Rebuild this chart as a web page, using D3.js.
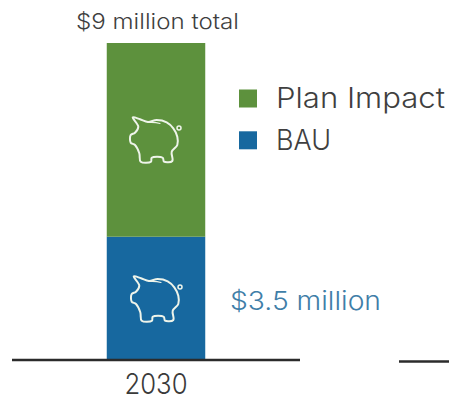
<!DOCTYPE html>
<html>
<head>
<meta charset="utf-8">
<script src="https://cdn.jsdelivr.net/npm/d3@7"></script>
<style>
  html, body { margin: 0; padding: 0; background: #fff; }
  svg { display: block; }
  text { font-family: "Inter", sans-serif; font-weight: 300; }
</style>
</head>
<body>
<svg id="chart" width="449" height="401"></svg>
<script>
const years = ["2030"];
const seriesNames = ["BAU", "Plan Impact"];
const bauValues = [3.5];
const planImpactValues = [5.5];
const seriesColors = ["#17689f", "#5d913d"];
const legendNames = ["Plan Impact", "BAU"];
const totalLabel = "$9 million total";
const bauLabel = "$3.5 million";

const svg = d3.select("#chart");
const baseline = 360;
const chartTop = 43;

const y = d3.scaleLinear().domain([0, 9]).range([baseline, chartTop]);
const x = d3.scaleBand().domain(years).range([12, 300]).paddingInner(0).paddingOuter(0.962);

const stacked = d3.stack().keys(seriesNames)(
  years.map((yr, i) => ({ year: yr, "BAU": bauValues[i], "Plan Impact": planImpactValues[i] }))
);

svg.selectAll("g.series").data(stacked).join("g")
  .attr("class", "series")
  .attr("fill", (d, i) => seriesColors[i])
  .selectAll("rect").data(d => d).join("rect")
  .attr("x", d => x(d.data.year))
  .attr("width", x.bandwidth())
  .attr("y", d => y(d[1]))
  .attr("height", d => y(d[0]) - y(d[1]));

// Axis rule for this panel plus the start of the neighbouring panel's rule
const axisRules = [[12, 300, 360], [399, 449, 361.5]];
svg.selectAll("line.rule").data(axisRules).join("line")
  .attr("class", "rule")
  .attr("x1", d => d[0]).attr("x2", d => d[1])
  .attr("y1", d => d[2]).attr("y2", d => d[2])
  .attr("stroke", "#2b2b2b").attr("stroke-width", 2.4);

svg.selectAll("text.year").data(years).join("text")
  .attr("class", "year")
  .attr("x", d => x(d) + x.bandwidth() / 2)
  .attr("y", 394)
  .attr("text-anchor", "middle")
  .attr("font-size", 29)
  .attr("textLength", 63)
  .attr("lengthAdjust", "spacingAndGlyphs")
  .attr("fill", "#3a3a3a")
  .text(d => d);

svg.append("text")
  .attr("x", 157.5)
  .attr("y", 29)
  .attr("text-anchor", "middle")
  .attr("font-size", 22)
  .attr("textLength", 163)
  .attr("lengthAdjust", "spacingAndGlyphs")
  .attr("fill", "#3f3f3f")
  .text(totalLabel);

svg.append("text")
  .attr("x", 230)
  .attr("y", 310)
  .attr("font-size", 26)
  .attr("textLength", 151)
  .attr("lengthAdjust", "spacingAndGlyphs")
  .attr("fill", "#3f7ea8")
  .text(bauLabel);

// Legend
const legendY = d3.scalePoint().domain(legendNames).range([98.5, 140.3]);
const legendColor = d3.scaleOrdinal().domain(seriesNames).range(seriesColors);
const legendWidths = { "Plan Impact": 169, "BAU": 55 };
const legend = svg.selectAll("g.legend").data(legendNames).join("g").attr("class", "legend");
legend.append("rect")
  .attr("x", 239).attr("width", 18).attr("height", 18)
  .attr("y", d => legendY(d) - 9)
  .attr("fill", d => legendColor(d));
legend.append("text")
  .attr("x", 276)
  .attr("y", d => legendY(d) + 9.5)
  .attr("font-size", 28)
  .attr("textLength", d => legendWidths[d])
  .attr("lengthAdjust", "spacingAndGlyphs")
  .attr("fill", "#3f3f3f")
  .text(d => d);

// Piggy-bank icon, outlined around its own origin
const pigOutline = [
  [132.7,117.3],[140,119.3],[148,122],[156.7,120],[166.7,122.3],[173.3,128.3],
  [177.3,136.7],[177.3,145],[171.7,151.7],[172.3,161],[164,161.7],[162.7,157.7],
  [151.7,157.7],[151,161.7],[140.7,161.7],[139.3,153.3],[135,145],[130.7,142.7],
  [130.7,135],[135,132.7],[138.3,126.7]
].map(p => [p[0] - 155, p[1] - 140]);
const pigLine = d3.line().curve(d3.curveCatmullRomClosed.alpha(0.5));

function drawPig(cx, cy) {
  const g = svg.append("g").attr("transform", `translate(${cx},${cy})`)
    .attr("fill", "none").attr("stroke", "#eef4ea").attr("stroke-width", 2)
    .attr("stroke-linejoin", "round").attr("stroke-linecap", "round");
  g.append("path").attr("d", pigLine(pigOutline));
  g.append("path").attr("d", "M-7,-17.5Q0,-18 5,-16.5").attr("stroke-width", 1.1);
  g.append("circle").attr("cx", 24).attr("cy", -12).attr("r", 2).attr("stroke-width", 1.5);
}
drawPig(155, 140);
drawPig(156, 299);
</script>
</body>
</html>
